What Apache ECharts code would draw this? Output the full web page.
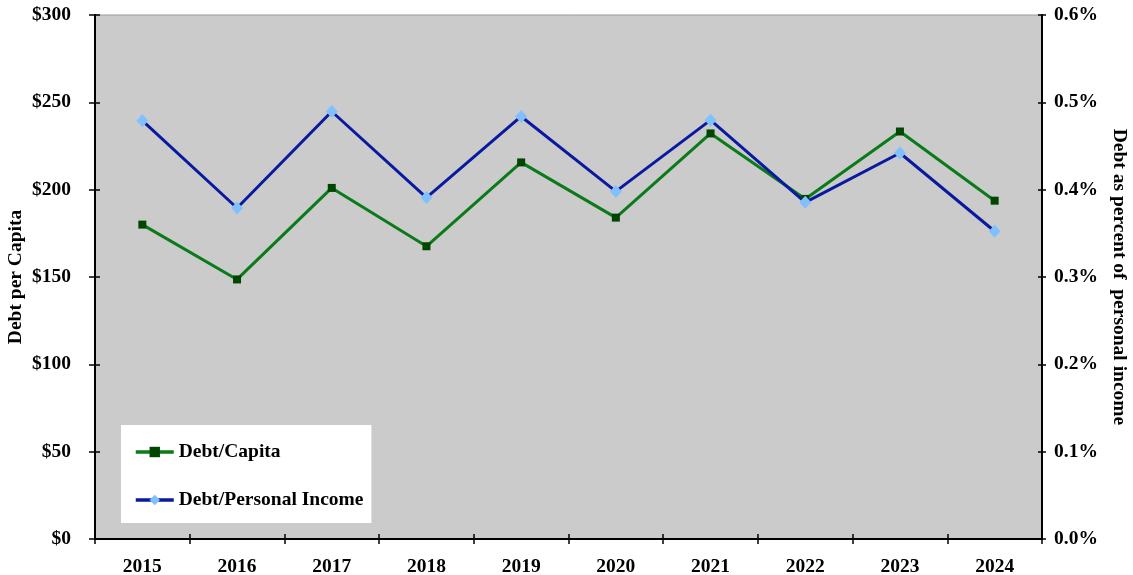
<!DOCTYPE html>
<html>
<head>
<meta charset="utf-8">
<script src="https://cdn.jsdelivr.net/npm/echarts@6/dist/echarts.min.js"></script>
<style>
html,body{margin:0;padding:0;background:#fff;}
#chart{width:1133px;height:575px;}
</style>
</head>
<body>
<div id="chart"></div>
<script>
const years = ['2015','2016','2017','2018','2019','2020','2021','2022','2023','2024'];
const debtPerCapita = [180, 148.6, 201, 167.6, 215.6, 184, 232.2, 194.7, 233.3, 193.7];
const debtPctIncome = [0.479, 0.379, 0.4895, 0.391, 0.4838, 0.398, 0.4796, 0.3855, 0.442, 0.3524];
const leftTicks = {min: 0, max: 300, interval: 50};
const rightTicks = {min: 0, max: 0.6, interval: 0.1};

const FONT = '"Liberation Serif", "Times New Roman", serif';
const FS = 19.5;
const chart = echarts.init(document.getElementById('chart'));
const labelStyle = {color: '#000', fontFamily: FONT, fontWeight: 'bold', fontSize: FS};

chart.setOption({
  animation: false,
  grid: {left: 95, right: 91, top: 15, bottom: 36, show: true, backgroundColor: '#cbcbcb', borderColor: '#9a9a9a', borderWidth: 1, containLabel: false, outerBoundsMode: 'none'},
  legend: {
    orient: 'vertical', left: 121, top: 425,
    backgroundColor: '#fff',
    padding: [17, 8, 13, 13],
    itemWidth: 38, itemHeight: 13, itemGap: 28,
    textStyle: labelStyle,
    data: [
      {name: 'Debt/Capita', lineStyle: {width: 3.5}},
      {name: 'Debt/Personal Income', lineStyle: {width: 3.5}}
    ]
  },
  xAxis: [{
    type: 'category', data: years, boundaryGap: true, position: 'bottom',
    axisLine: {lineStyle: {color: '#000', width: 2}},
    axisTick: {show: true, inside: false, length: 5, lineStyle: {color: '#000', width: 1.5}},
    axisLabel: Object.assign({margin: 18}, labelStyle),
    splitLine: {show: false}
  }, {
    type: 'category', data: years, boundaryGap: true, position: 'bottom',
    axisLine: {show: false},
    axisTick: {show: true, inside: true, length: 5, lineStyle: {color: '#000', width: 1.5}},
    axisLabel: {show: false},
    splitLine: {show: false}
  }],
  yAxis: [{
    type: 'value', position: 'left', min: leftTicks.min, max: leftTicks.max, interval: leftTicks.interval,
    name: 'Debt per Capita', nameLocation: 'middle', nameGap: 69, nameRotate: 90, nameMoveOverlap: false,
    nameTextStyle: labelStyle,
    axisLine: {show: true, lineStyle: {color: '#000', width: 2}},
    axisTick: {show: true, inside: false, length: 6, lineStyle: {color: '#000', width: 1.5}},
    axisLabel: Object.assign({margin: 24, formatter: v => '$' + v}, labelStyle),
    splitLine: {show: false}
  }, {
    type: 'value', position: 'right', min: rightTicks.min, max: rightTicks.max, interval: rightTicks.interval,
    name: 'Debt as percent of  personal income', nameLocation: 'middle', nameGap: 67, nameRotate: -90, nameMoveOverlap: false,
    nameTextStyle: labelStyle,
    axisLine: {show: true, lineStyle: {color: '#000', width: 2}},
    axisTick: {show: true, inside: false, length: 4, lineStyle: {color: '#000', width: 1.5}},
    axisLabel: Object.assign({margin: 12, formatter: v => v.toFixed(1) + '%'}, labelStyle),
    splitLine: {show: false}
  }, {
    type: 'value', position: 'left', min: leftTicks.min, max: leftTicks.max, interval: leftTicks.interval,
    axisLine: {show: false},
    axisTick: {show: true, inside: true, length: 5, lineStyle: {color: '#000', width: 1.5}},
    axisLabel: {show: false}, splitLine: {show: false}
  }, {
    type: 'value', position: 'right', min: rightTicks.min, max: rightTicks.max, interval: rightTicks.interval,
    axisLine: {show: false},
    axisTick: {show: true, inside: true, length: 4, lineStyle: {color: '#000', width: 1.5}},
    axisLabel: {show: false}, splitLine: {show: false}
  }],
  series: [{
    name: 'Debt/Capita', type: 'line', xAxisIndex: 0, yAxisIndex: 0,
    data: debtPerCapita,
    lineStyle: {color: '#0b7a1a', width: 3},
    itemStyle: {color: '#004600'},
    symbol: 'rect', symbolSize: 8, showAllSymbol: true
  }, {
    name: 'Debt/Personal Income', type: 'line', xAxisIndex: 0, yAxisIndex: 1,
    data: debtPctIncome,
    lineStyle: {color: '#0a1aa0', width: 3},
    itemStyle: {color: '#80c0ff'},
    symbol: 'diamond', symbolSize: [12, 13], showAllSymbol: true
  }]
});
</script>
</body>
</html>
